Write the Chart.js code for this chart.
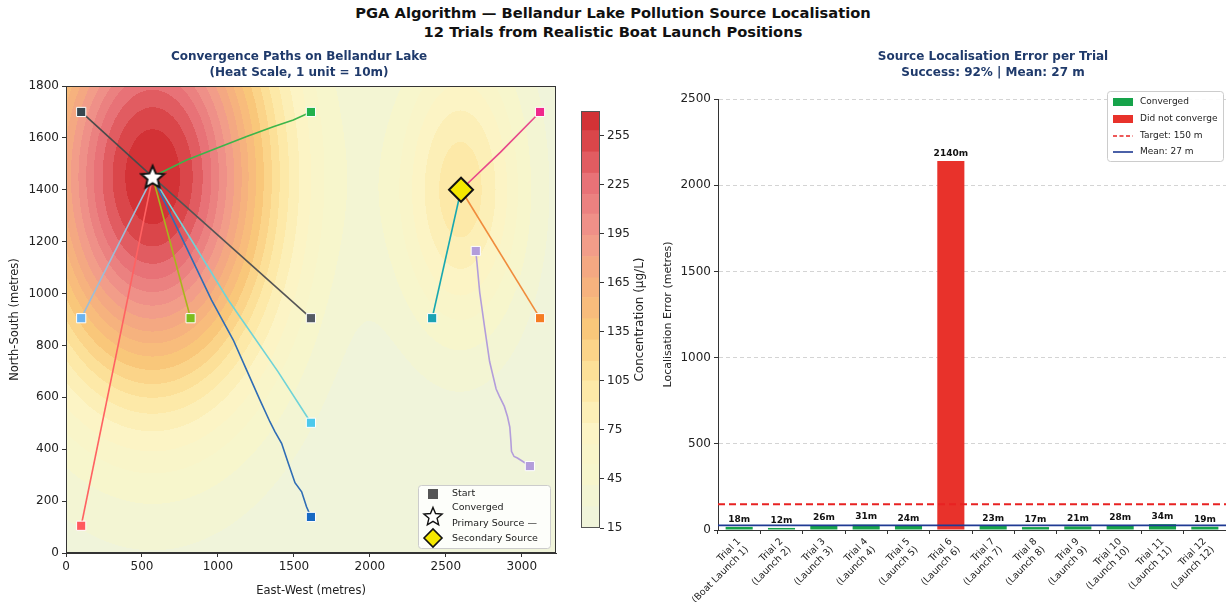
<!DOCTYPE html>
<html>
<head>
<meta charset="utf-8">
<script src="https://cdn.jsdelivr.net/npm/chart.js@4.4.1/dist/chart.umd.min.js"></script>
<style>
  body { margin: 0; width: 1226px; height: 602px; background: #fff; position: relative; overflow: hidden; font-family: "DejaVu Sans", sans-serif; }
  #hd { position: absolute; top: 3px; left: 0; width: 1226px; text-align: center; font-weight: bold; font-size: 14.7px; line-height: 19px; color: #111; }
  canvas { position: absolute; top: 0; }
</style>
</head>
<body>
<div id="hd">PGA Algorithm — Bellandur Lake Pollution Source Localisation<br>12 Trials from Realistic Boat Launch Positions</div>
<canvas id="paths" width="575" height="602" style="left:0"></canvas>
<canvas id="cbar" width="88" height="602" style="left:570px"></canvas>
<canvas id="errors" width="566" height="602" style="left:660px"></canvas>
<script>
// ---- data ----
const trialLabels = [
  ['Trial 1', '(Boat Launch 1)'], ['Trial 2', '(Launch 2)'], ['Trial 3', '(Launch 3)'], ['Trial 4', '(Launch 4)'],
  ['Trial 5', '(Launch 5)'], ['Trial 6', '(Launch 6)'], ['Trial 7', '(Launch 7)'], ['Trial 8', '(Launch 8)'],
  ['Trial 9', '(Launch 9)'], ['Trial 10', '(Launch 10)'], ['Trial 11', '(Launch 11)'], ['Trial 12', '(Launch 12)']
];
const trialErrors = [18, 12, 26, 31, 24, 2140, 23, 17, 21, 28, 34, 19];
const trialConverged = [true, true, true, true, true, false, true, true, true, true, true, true];
const targetError = 150;
const meanError = 27;
const errorTicks = [0, 500, 1000, 1500, 2000, 2500];

// boat paths (metres), start first
const trialPaths = [
  [[100, 1700], [570, 1450]],
  [[1612, 1700], [1496, 1669], [1364, 1643], [1189, 1605], [991, 1560], [794, 1515], [570, 1450]],
  [[100, 905], [570, 1450]],
  [[820, 905], [570, 1450]],
  [[100, 105], [570, 1450]],
  [[3053, 335], [3025, 346], [2971, 366], [2949, 372], [2932, 392], [2928, 432], [2921, 485], [2906, 525],
   [2885, 565], [2852, 605], [2831, 632], [2788, 738], [2755, 871], [2723, 1004], [2706, 1111], [2697, 1164]],
  [[1612, 139], [1583, 178], [1551, 236], [1507, 271], [1463, 346], [1419, 423], [1375, 468], [1342, 506],
   [1276, 590], [1189, 705], [1101, 821], [958, 975], [570, 1450]],
  [[1612, 502], [1394, 700], [1068, 975], [570, 1450]],
  [[1612, 905], [570, 1450]],
  [[3120, 1700], [2860, 1545], [2600, 1400]],
  [[2410, 905], [2600, 1400]],
  [[3120, 905], [2600, 1400]]
];
const lineColours = ['#4a4a4a', '#3cb54a', '#9dbdd8', '#a8b51c', '#ff6262', '#b39ddb',
                     '#2f6db5', '#6fd3d8', '#555555', '#e8488a', '#18a8b0', '#f08c3c'];
const startColours = ['#37474f', '#22b14c', '#6cb4f0', '#7cbd1e', '#ff5a5f', '#b39ddb',
                      '#1769c2', '#4dc9ec', '#555a64', '#f0288c', '#1ba2b4', '#f57c22'];
const eastTicks = [0, 500, 1000, 1500, 2000, 2500, 3000];
const northTicks = [0, 200, 400, 600, 800, 1000, 1200, 1400, 1600, 1800];

// pollution sources
const sourceX = [570, 2600];
const sourceY = [1450, 1400];
const sourcePeak = [255, 85];
const spreadX = [580, 300];
const spreadY = [590, 400];
const baseConc = 15;

// colour bar
const concLevels = [15, 28, 41, 54, 66, 79, 92, 105, 117, 130, 143, 156, 168, 181, 194, 207, 219, 232, 245, 258, 270];
const concTicks = [15, 45, 75, 105, 135, 165, 195, 225, 255];
const stopValues = [15, 45, 75, 105, 135, 165, 195, 225, 255, 270];
const stopColours = [[238, 243, 221], [246, 246, 205], [252, 244, 196], [253, 230, 160], [249, 200, 122],
                     [246, 176, 126], [240, 150, 140], [232, 115, 120], [216, 64, 68], [208, 40, 44]];

Chart.defaults.font.family = "'DejaVu Sans', sans-serif";
Chart.defaults.color = '#222';
Chart.defaults.animation = false;
Chart.defaults.events = [];
Chart.defaults.plugins.legend.display = false;
Chart.defaults.plugins.tooltip.enabled = false;

function colourAt(v) {
  if (v <= stopValues[0]) return stopColours[0];
  for (let i = 1; i < stopValues.length; i++) {
    if (v <= stopValues[i]) {
      const t = (v - stopValues[i - 1]) / (stopValues[i] - stopValues[i - 1]);
      const a = stopColours[i - 1], b = stopColours[i];
      return a.map((c, k) => Math.round(c + (b[k] - c) * t));
    }
  }
  return stopColours[stopColours.length - 1];
}
const bandColours = concLevels.slice(0, -1).map((lo, i) => colourAt((lo + concLevels[i + 1]) / 2));
const rgb = c => `rgb(${c[0]},${c[1]},${c[2]})`;

function conc(x, y) {
  let c = baseConc;
  for (let i = 0; i < sourceX.length; i++) {
    const dx = (x - sourceX[i]) / spreadX[i], dy = (y - sourceY[i]) / spreadY[i];
    c += sourcePeak[i] * Math.exp(-0.5 * (dx * dx + dy * dy));
  }
  return c;
}
function bandOf(c) {
  for (let k = concLevels.length - 2; k >= 0; k--) if (c >= concLevels[k]) return k;
  return 0;
}
const fixedTicks = vals => s => { s.ticks = vals.map(v => ({ value: v })); };

function makeStar(size, lw) {
  const c = document.createElement('canvas');
  c.width = c.height = size;
  const g = c.getContext('2d');
  const r = size / 2 - lw, ri = r * 0.45;
  g.beginPath();
  for (let i = 0; i < 10; i++) {
    const a = -Math.PI / 2 + i * Math.PI / 5, rr = i % 2 ? ri : r;
    g.lineTo(size / 2 + rr * Math.cos(a), size / 2 + 1 + rr * Math.sin(a));
  }
  g.closePath();
  g.fillStyle = '#fff'; g.fill();
  g.lineWidth = lw; g.lineJoin = 'miter'; g.strokeStyle = '#111'; g.stroke();
  return c;
}
const bigStar = makeStar(28, 2);
const smallStar = makeStar(22, 1.4);

function drawTitle(ctx, cx, lines) {
  ctx.save();
  ctx.fillStyle = '#1f3a6b';
  ctx.font = "bold 12px 'DejaVu Sans', sans-serif";
  ctx.textAlign = 'center'; ctx.textBaseline = 'middle';
  ctx.fillText(lines[0], cx, 57);
  ctx.fillText(lines[1], cx, 73);
  ctx.restore();
}

// ---- left: paths over heat field ----
const heatPlugin = {
  id: 'heat',
  beforeDatasetsDraw(chart) {
    const { ctx, chartArea: a, scales: { x, y } } = chart;
    const L = Math.round(a.left), T = Math.round(a.top);
    const w = Math.round(a.right) - L, h = Math.round(a.bottom) - T;
    const img = ctx.createImageData(w, h);
    for (let j = 0; j < h; j++) {
      const vy = y.getValueForPixel(T + j + 0.5);
      for (let i = 0; i < w; i++) {
        const col = bandColours[bandOf(conc(x.getValueForPixel(L + i + 0.5), vy))];
        const k = 4 * (j * w + i);
        img.data[k] = col[0]; img.data[k + 1] = col[1]; img.data[k + 2] = col[2]; img.data[k + 3] = 255;
      }
    }
    ctx.putImageData(img, L, T);
  },
  afterDraw(chart) {
    const { ctx, chartArea: a } = chart;
    ctx.save();
    ctx.strokeStyle = '#333'; ctx.lineWidth = 1;
    ctx.strokeRect(a.left + 0.5, a.top + 0.5, a.right - a.left - 1, a.bottom - a.top - 1);
    // legend
    const bw = 132, bh = 63, bx = a.right - 6 - bw, by = a.bottom - 5 - bh;
    ctx.fillStyle = 'rgba(255,255,255,0.85)';
    ctx.strokeStyle = '#cccccc';
    ctx.beginPath(); ctx.roundRect(bx + 0.5, by + 0.5, bw, bh, 3); ctx.fill(); ctx.stroke();
    ctx.fillStyle = '#555'; ctx.fillRect(bx + 10, by + 4, 10, 10);
    ctx.drawImage(smallStar, bx + 4, by + 20);
    ctx.fillStyle = '#f5e800'; ctx.strokeStyle = '#111'; ctx.lineWidth = 1.6;
    Chart.helpers.drawPoint(ctx, { pointStyle: 'rectRot', radius: 9, borderWidth: 1.6 }, bx + 15, by + 53);
    ctx.fillStyle = '#222';
    ctx.font = "9.5px 'DejaVu Sans', sans-serif";
    ctx.textBaseline = 'middle';
    ctx.fillText('Start', bx + 34, by + 9);
    ctx.fillText('Converged', bx + 34, by + 23);
    ctx.fillText('Primary Source —', bx + 34, by + 39);
    ctx.fillText('Secondary Source', bx + 34, by + 54);
    drawTitle(ctx, 299, ['Convergence Paths on Bellandur Lake', '(Heat Scale, 1 unit = 10m)']);
    ctx.restore();
  }
};

const pathSets = trialPaths.map((p, i) => ({
  data: p.map(([x, y]) => ({ x, y })),
  showLine: true, borderColor: lineColours[i], borderWidth: 1.6, pointRadius: 0, order: 3
}));
const endSet = {
  data: trialPaths.filter((p, i) => !trialConverged[i]).map(p => ({ x: p[p.length - 1][0], y: p[p.length - 1][1] })),
  pointStyle: 'rect', pointRadius: 6.5, backgroundColor: startColours.filter((c, i) => !trialConverged[i]),
  borderColor: '#fff', borderWidth: 1, order: 2
};
const startSet = {
  data: trialPaths.map(p => ({ x: p[0][0], y: p[0][1] })),
  pointStyle: 'rect', pointRadius: 6.5, backgroundColor: startColours, borderColor: '#fff', borderWidth: 1, order: 1
};
const primarySet = {
  data: [{ x: sourceX[0], y: sourceY[0] }], pointStyle: bigStar, pointRadius: 14, order: 0
};
const secondarySet = {
  data: [{ x: sourceX[1], y: sourceY[1] }], pointStyle: 'rectRot', pointRadius: 12,
  backgroundColor: '#f5e800', borderColor: '#111', borderWidth: 2, order: 0
};

new Chart(document.getElementById('paths'), {
  type: 'scatter',
  data: { datasets: [...pathSets, endSet, startSet, primarySet, secondarySet] },
  options: {
    responsive: false,
    layout: { padding: { top: 86, left: 8, right: 19, bottom: 4 } },
    scales: {
      x: {
        type: 'linear', min: 0, max: 3225,
        afterBuildTicks: fixedTicks(eastTicks),
        ticks: { font: { size: 12 }, padding: 3, callback: v => String(v) },
        grid: { drawOnChartArea: false, tickLength: 4, tickColor: '#333' },
        border: { color: '#333' },
        title: { display: true, text: 'East-West (metres)', font: { size: 11.5 }, padding: { top: 2, bottom: 0 } },
        afterFit: s => { s.height = 45; }
      },
      y: {
        type: 'linear', min: 0, max: 1800,
        afterBuildTicks: fixedTicks(northTicks),
        ticks: { font: { size: 12 }, padding: 3, callback: v => String(v) },
        grid: { drawOnChartArea: false, tickLength: 4, tickColor: '#333' },
        border: { color: '#333' },
        title: { display: true, text: 'North-South (metres)', font: { size: 11.5 }, padding: { top: 0, bottom: 6 } },
        afterFit: s => { s.width = 58; }
      }
    }
  },
  plugins: [heatPlugin]
});

// ---- colour bar ----
const cbarPlugin = {
  id: 'cbarDeco',
  afterDraw(chart) {
    const { ctx, chartArea: a } = chart;
    ctx.save();
    ctx.strokeStyle = '#555'; ctx.lineWidth = 1;
    ctx.strokeRect(a.left + 0.5, a.top + 0.5, a.right - a.left - 1, a.bottom - a.top - 1);
    ctx.translate(70, (a.top + a.bottom) / 2);
    ctx.rotate(-Math.PI / 2);
    ctx.fillStyle = '#222';
    ctx.font = "12px 'DejaVu Sans', sans-serif";
    ctx.textAlign = 'center'; ctx.textBaseline = 'middle';
    ctx.fillText('Concentration (µg/L)', 0, 0);
    ctx.restore();
  }
};
new Chart(document.getElementById('cbar'), {
  type: 'bar',
  data: {
    labels: [''],
    datasets: concLevels.slice(0, -1).map((lo, i) => ({
      data: [[lo, concLevels[i + 1]]], backgroundColor: rgb(bandColours[i]),
      barPercentage: 1, categoryPercentage: 1, grouped: false, borderWidth: 0
    }))
  },
  options: {
    responsive: false,
    layout: { padding: { top: 111, bottom: 74, left: 11, right: 0 } },
    scales: {
      x: { display: false },
      y: {
        position: 'right', min: 15, max: 270,
        afterBuildTicks: fixedTicks(concTicks),
        ticks: { font: { size: 12 }, padding: 3 },
        grid: { drawOnChartArea: false, tickLength: 4, tickColor: '#333' },
        border: { display: false },
        afterFit: s => { s.width = 58; }
      }
    }
  },
  plugins: [cbarPlugin]
});

// ---- right: error per trial ----
const errorPlugin = {
  id: 'errDeco',
  afterDatasetsDraw(chart) {
    const { ctx, chartArea: a, scales: { y } } = chart;
    ctx.save();
    const ty = y.getPixelForValue(targetError), my = y.getPixelForValue(meanError);
    ctx.strokeStyle = '#e82222'; ctx.lineWidth = 2; ctx.setLineDash([7, 4]);
    ctx.beginPath(); ctx.moveTo(a.left, ty); ctx.lineTo(a.right, ty); ctx.stroke();
    ctx.setLineDash([]);
    ctx.strokeStyle = '#1f3a93'; ctx.lineWidth = 1.6;
    ctx.beginPath(); ctx.moveTo(a.left, my); ctx.lineTo(a.right, my); ctx.stroke();
    ctx.fillStyle = '#111';
    ctx.font = "bold 9px 'DejaVu Sans', sans-serif";
    ctx.textAlign = 'center'; ctx.textBaseline = 'bottom';
    chart.getDatasetMeta(0).data.forEach((bar, i) => {
      ctx.fillText(trialErrors[i] + 'm', bar.x, bar.y - 3);
    });
    ctx.restore();
  },
  afterDraw(chart) {
    const { ctx } = chart;
    ctx.save();
    drawTitle(ctx, 333, ['Source Localisation Error per Trial', 'Success: 92% | Mean: 27 m']);
    const bx = 447, by = 91, bw = 116, bh = 70;
    ctx.fillStyle = 'rgba(255,255,255,0.9)'; ctx.strokeStyle = '#cccccc'; ctx.lineWidth = 1;
    ctx.beginPath(); ctx.roundRect(bx + 0.5, by + 0.5, bw, bh, 3); ctx.fill(); ctx.stroke();
    ctx.fillStyle = '#16a34a'; ctx.fillRect(bx + 6, by + 7, 20, 8);
    ctx.fillStyle = '#e8322b'; ctx.fillRect(bx + 6, by + 24, 20, 8);
    ctx.strokeStyle = '#e82222'; ctx.lineWidth = 1.6; ctx.setLineDash([4, 2.5]);
    ctx.beginPath(); ctx.moveTo(bx + 6, by + 45); ctx.lineTo(bx + 26, by + 45); ctx.stroke();
    ctx.setLineDash([]); ctx.strokeStyle = '#1f3a93';
    ctx.beginPath(); ctx.moveTo(bx + 6, by + 61); ctx.lineTo(bx + 26, by + 61); ctx.stroke();
    ctx.fillStyle = '#222'; ctx.font = "9px 'DejaVu Sans', sans-serif"; ctx.textBaseline = 'middle';
    ctx.fillText('Converged', bx + 33, by + 11);
    ctx.fillText('Did not converge', bx + 33, by + 28);
    ctx.fillText('Target: 150 m', bx + 33, by + 45);
    ctx.fillText('Mean: 27 m', bx + 33, by + 61);
    ctx.restore();
  }
};

new Chart(document.getElementById('errors'), {
  type: 'bar',
  data: {
    labels: trialLabels,
    datasets: [{
      data: trialErrors,
      backgroundColor: trialConverged.map(c => c ? '#16a34a' : '#e8322b'),
      barPercentage: 0.64, categoryPercentage: 1, borderWidth: 0
    }]
  },
  options: {
    responsive: false,
    layout: { padding: { top: 99, left: 0, right: 0, bottom: 0 } },
    scales: {
      x: {
        ticks: { maxRotation: 45, minRotation: 45, font: { size: 9.5 }, padding: 2, autoSkip: false },
        grid: { drawOnChartArea: false, tickLength: 4, tickColor: '#333' },
        border: { color: '#333' },
        afterFit: s => { s.height = 72; }
      },
      y: {
        min: 0, max: 2500,
        afterBuildTicks: fixedTicks(errorTicks),
        ticks: { font: { size: 12 }, padding: 3, callback: v => String(v) },
        grid: { color: '#d4d4d4', tickLength: 4, tickColor: '#333' },
        border: { color: '#333', dash: [4, 3] },
        title: { display: true, text: 'Localisation Error (metres)', font: { size: 11 }, padding: { top: 2, bottom: 4 } },
        afterFit: s => { s.width = 58; }
      }
    }
  },
  plugins: [errorPlugin]
});
</script>
</body>
</html>
